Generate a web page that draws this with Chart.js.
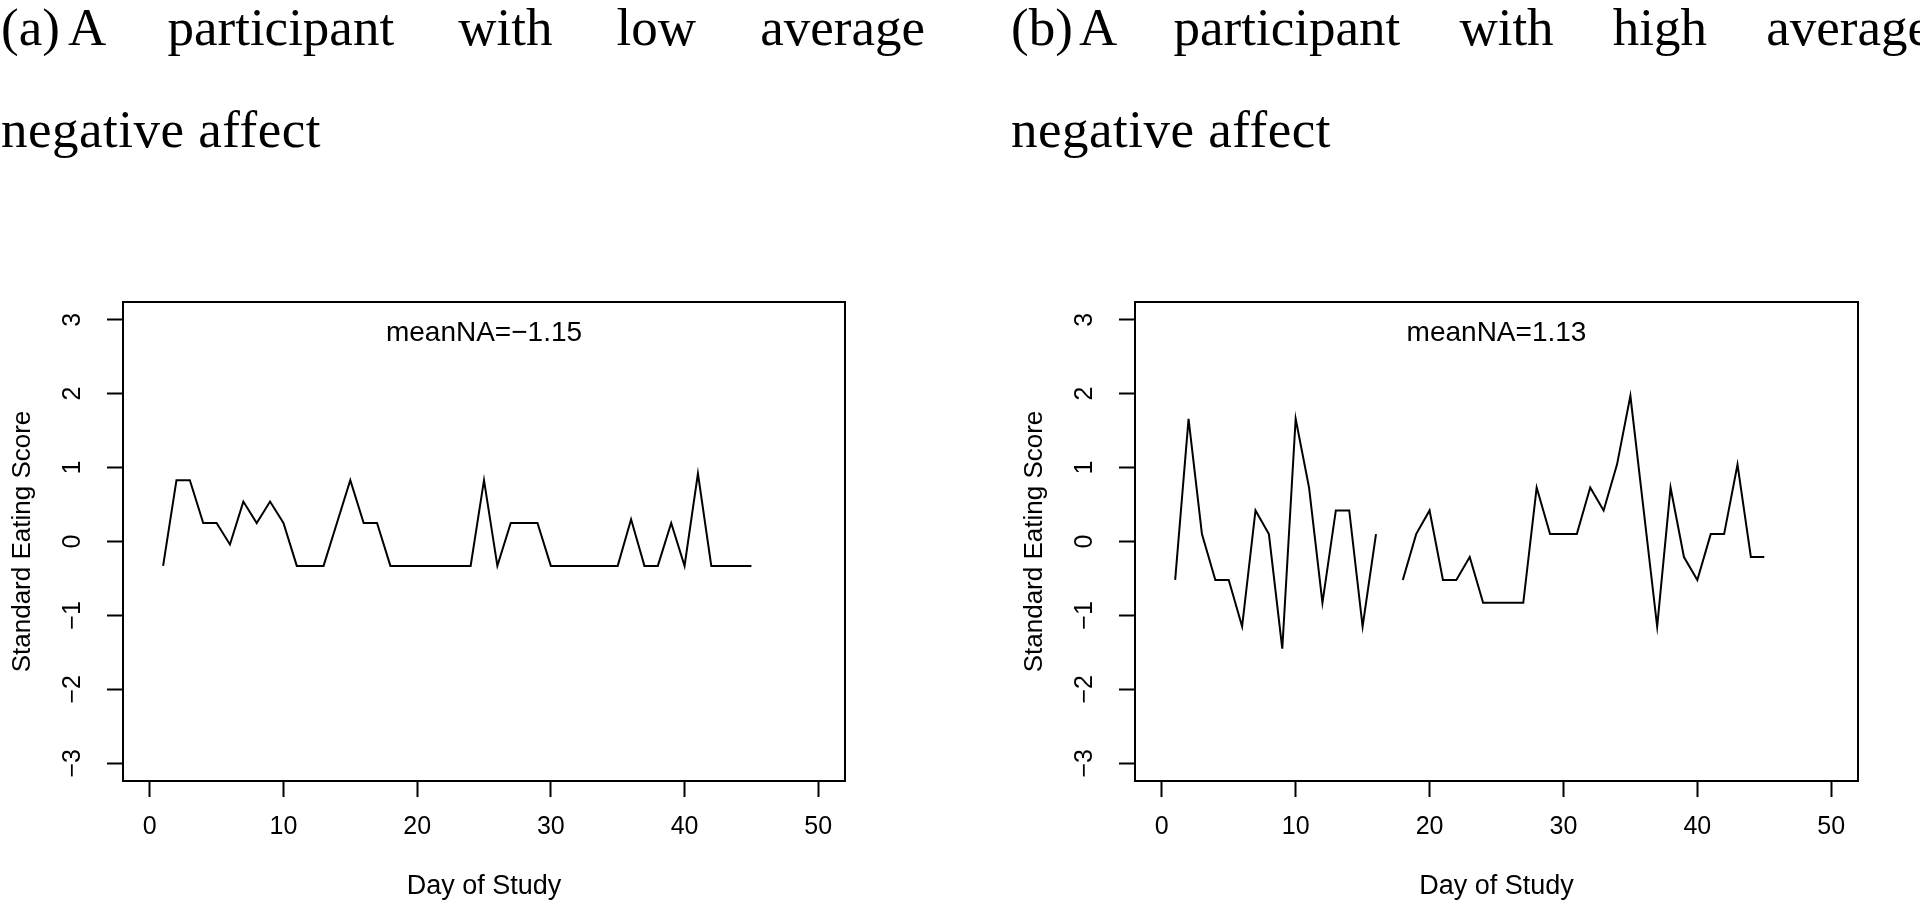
<!DOCTYPE html>
<html><head><meta charset="utf-8">
<script src="https://cdn.jsdelivr.net/npm/chart.js@4.4.0/dist/chart.umd.min.js"></script>
<style>
html,body{margin:0;padding:0;width:1920px;height:903px;overflow:hidden;background:#fff;}
.title{position:absolute;font-family:"Liberation Serif",serif;font-size:53px;line-height:53px;color:#000;white-space:nowrap;}
.just{text-align:justify;text-align-last:justify;white-space:normal;}
canvas{position:absolute;}
</style></head><body>
<div id="la" class="title" style="left:1px;top:1px;"></div>
<div id="ta1" class="title just" style="left:68px;top:1px;width:857px;"></div>
<div id="ta2" class="title" style="left:1px;top:103px;letter-spacing:0.5px;"></div>
<div id="lb" class="title" style="left:1011px;top:1px;"></div>
<div id="tb1" class="title just" style="left:1079px;top:1px;width:852px;"></div>
<div id="tb2" class="title" style="left:1011px;top:103px;letter-spacing:0.5px;"></div>
<canvas id="c1" width="960" height="733" style="left:0;top:170px;"></canvas>
<canvas id="c2" width="908" height="733" style="left:1012px;top:170px;"></canvas>
<script>
const days = [1,2,3,4,5,6,7,8,9,10,11,12,13,14,15,16,17,18,19,20,21,22,23,24,25,26,27,28,29,30,31,32,33,34,35,36,37,38,39,40,41,42,43,44,45];
const lowNA = [-0.33,0.83,0.83,0.25,0.25,-0.04,0.54,0.25,0.54,0.25,
  -0.33,-0.33,-0.33,0.25,0.83,0.25,0.25,-0.33,-0.33,-0.33,
  -0.33,-0.33,-0.33,-0.33,0.83,-0.33,0.25,0.25,0.25,-0.33,
  -0.33,-0.33,-0.33,-0.33,-0.33,0.30,-0.33,-0.33,0.25,-0.33,
  0.92,-0.33,-0.33,-0.33,-0.33];
const highNA = [-0.52,1.66,0.10,-0.52,-0.52,-1.15,0.42,0.10,-1.45,1.66,
  0.73,-0.83,0.42,0.42,-1.15,0.10,null,-0.52,0.10,0.42,
  -0.52,-0.52,-0.21,-0.83,-0.83,-0.83,-0.83,0.73,0.10,0.10,
  0.10,0.73,0.42,1.04,1.97,0.41,-1.15,0.73,-0.21,-0.52,
  0.10,0.10,1.04,-0.21,-0.21];
const xTicks = [0,10,20,30,40,50];
const xTickLabels = ['0','10','20','30','40','50'];
const yTicks = [-3,-2,-1,0,1,2,3];
const yTickLabels = ['\u22123','\u22122','\u22121','0','1','2','3'];
const panelLabels = ['(a)','(b)'];
const titleLowLines = ['A participant with low average','negative affect'];
const titleHighLines = ['A participant with high average','negative affect'];
const meanLabels = ['meanNA=\u22121.15','meanNA=1.13'];
const xTitle = 'Day of Study';
const yTitle = 'Standard Eating Score';

document.getElementById('la').textContent = panelLabels[0];
document.getElementById('ta1').textContent = titleLowLines[0];
document.getElementById('ta2').textContent = titleLowLines[1];
document.getElementById('lb').textContent = panelLabels[1];
document.getElementById('tb1').textContent = titleHighLines[0];
document.getElementById('tb2').textContent = titleHighLines[1];

const SANS = '"Liberation Sans", Arial, sans-serif';

const framePlugin = {
  id: 'frame',
  afterDraw(chart){
    const a = chart.chartArea, ctx = chart.ctx;
    ctx.save();
    ctx.strokeStyle = '#000'; ctx.lineWidth = 2;
    ctx.strokeRect(a.left, a.top, a.right - a.left, a.bottom - a.top);
    ctx.restore();
  }
};
const labelPlugin = {
  id: 'meanLabel',
  afterDraw(chart, args, opts){
    const ctx = chart.ctx;
    ctx.save();
    ctx.fillStyle = '#000';
    ctx.font = opts.size + 'px ' + SANS;
    ctx.textAlign = 'center'; ctx.textBaseline = 'middle';
    ctx.fillText(opts.text, chart.scales.x.getPixelForValue(opts.x), chart.scales.y.getPixelForValue(opts.y));
    ctx.restore();
  }
};

function makeChart(id, values, label, padRight){
  const pts = days.map((d, i) => ({x: d, y: values[i]}));
  return new Chart(document.getElementById(id), {
    type: 'line',
    data: { datasets: [{ data: pts, borderColor: '#000', borderWidth: 2, pointRadius: 0, tension: 0, spanGaps: false, fill: false }] },
    options: {
      responsive: false, animation: false, devicePixelRatio: 1,
      layout: { padding: { top: 132, right: padRight, left: 0, bottom: 0 } },
      plugins: { legend: { display: false }, tooltip: { enabled: false },
        meanLabel: { text: label, x: 25, y: 2.82, size: 28 } },
      scales: {
        x: {
          type: 'linear', min: -2, max: 52,
          afterBuildTicks: s => { s.ticks = xTicks.map(v => ({ value: v })); },
          afterFit: s => { s.height = 122; },
          grid: { display: true, drawOnChartArea: false, drawTicks: true, tickLength: 16, tickColor: '#000', tickWidth: 2, color: '#000' },
          border: { display: false },
          ticks: { color: '#000', font: { family: SANS, size: 25 }, padding: 15, maxRotation: 0, minRotation: 0, autoSkip: false,
            callback: v => xTickLabels[xTicks.indexOf(v)] },
          title: { display: true, text: xTitle, color: '#000', font: { family: SANS, size: 27 }, padding: { top: 0, bottom: 0 } }
        },
        y: {
          type: 'linear', min: -3.24, max: 3.24,
          afterBuildTicks: s => { s.ticks = yTicks.map(v => ({ value: v })); },
          afterFit: s => { s.width = 123; },
          grid: { display: true, drawOnChartArea: false, drawTicks: true, tickLength: 16, tickColor: '#000', tickWidth: 2, color: '#000' },
          border: { display: false },
          ticks: { color: '#000', font: { family: SANS, size: 25 }, padding: 20, minRotation: 90, maxRotation: 90, crossAlign: 'center', autoSkip: false,
            callback: v => yTickLabels[yTicks.indexOf(v)] },
          title: { display: true, text: yTitle, color: '#000', font: { family: SANS, size: 26 }, padding: { top: 7, bottom: 0 } }
        }
      }
    },
    plugins: [framePlugin, labelPlugin]
  });
}
makeChart('c1', lowNA, meanLabels[0], 115);
makeChart('c2', highNA, meanLabels[1], 62);
</script>
</body></html>
